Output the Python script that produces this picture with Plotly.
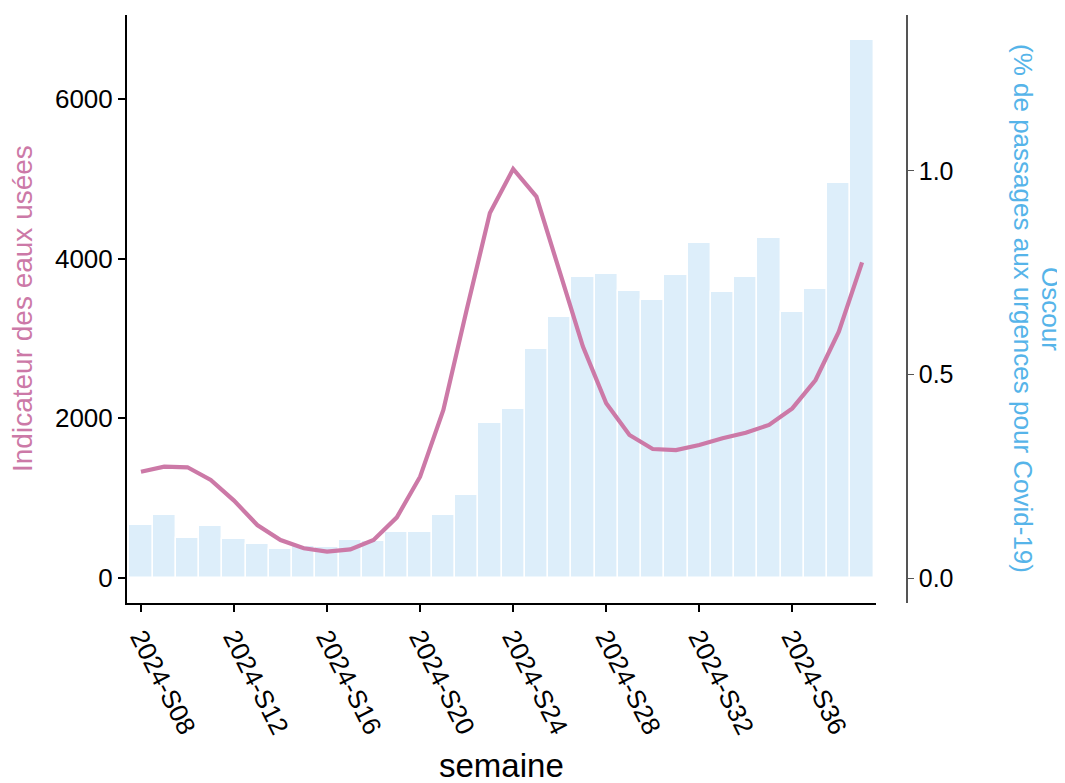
import plotly.graph_objects as go

weeks = [f"2024-S{w:02d}" for w in range(8, 40)]
oscour = [0.130, 0.155, 0.098, 0.128, 0.096, 0.084, 0.071, 0.079, 0.076, 0.093,
          0.091, 0.113, 0.113, 0.155, 0.204, 0.381, 0.415, 0.563, 0.641, 0.740,
          0.747, 0.705, 0.683, 0.744, 0.823, 0.703, 0.740, 0.835, 0.654, 0.710,
          0.971, 1.322]
eaux = [1331, 1394, 1387, 1228, 970, 664, 476, 372, 330, 359,
        476, 760, 1269, 2105, 3357, 4572, 5123, 4777, 3837, 2898,
        2188, 1791, 1616, 1603, 1666, 1750, 1820, 1917, 2125, 2480,
        3086, 3954]
tick_weeks = ["2024-S08", "2024-S12", "2024-S16", "2024-S20",
              "2024-S24", "2024-S28", "2024-S32", "2024-S36"]

PINK = "#CC79A7"
BLUE = "#56B4E9"
FONT = "Liberation Sans, Arial, sans-serif"

fig = go.Figure()
fig.add_trace(go.Bar(x=weeks, y=oscour, yaxis="y",
                     marker=dict(color="#DDEEFA", line=dict(color="white", width=1.4)),
                     showlegend=False))
fig.add_trace(go.Scatter(x=weeks, y=eaux, yaxis="y2", mode="lines",
                         line=dict(color=PINK, width=4.2), showlegend=False))

fig.update_layout(
    width=1057, height=775,
    margin=dict(l=119, r=158, t=7, b=180),
    plot_bgcolor="white", paper_bgcolor="white",
    font=dict(family=FONT, size=26, color="black"),
    bargap=0.0,
    xaxis=dict(domain=[0, 0.9603], type="category", range=[-0.6, 31.6],
               tickmode="array", tickvals=tick_weeks, ticktext=tick_weeks,
               tickangle=63, ticks="outside", ticklen=7, tickwidth=1.5, tickcolor="black",
               showline=True, linecolor="black", linewidth=2, showgrid=False, zeroline=False,
               anchor="y", automargin=False, tickfont=dict(size=26)),
    yaxis=dict(side="right", anchor="free", position=1.0, range=[-0.0614, 1.383],
               tickvals=[0, 0.5, 1.0], ticktext=["0.0", "0.5", "1.0"],
               ticks="outside", ticklen=6, tickcolor="#555", tickwidth=1.2,
               showline=True, linecolor="#555", linewidth=1.5, showgrid=False, zeroline=False,
               automargin=False, tickfont=dict(size=25)),
    yaxis2=dict(overlaying="y", side="left", anchor="x", range=[-313, 7052],
                tickvals=[0, 2000, 4000, 6000],
                ticks="outside", ticklen=7, tickcolor="black", tickwidth=1.5,
                showline=True, linecolor="black", linewidth=2, showgrid=False, zeroline=False,
                automargin=False, tickfont=dict(size=26)),
    annotations=[
        dict(text="semaine", xref="paper", yref="paper", x=0.4795, y=-0.277,
             xanchor="center", yanchor="middle", showarrow=False, font=dict(size=33, color="black")),
        dict(text="Indicateur des eaux usées", xref="paper", yref="paper", x=-0.1346, y=0.5,
             xanchor="center", yanchor="middle", textangle=-90, showarrow=False,
             font=dict(size=28, color=PINK)),
        dict(text="Oscour", xref="paper", yref="paper",
             x=1.1846, y=0.5, xanchor="center", yanchor="middle", textangle=90, showarrow=False,
             font=dict(size=26, color=BLUE)),
        dict(text="(% de passages aux urgences pour Covid-19)", xref="paper", yref="paper",
             x=1.1487, y=0.5, xanchor="center", yanchor="middle", textangle=90, showarrow=False,
             font=dict(size=26, color=BLUE)),
    ],
)

fig.write_html("out.html")
